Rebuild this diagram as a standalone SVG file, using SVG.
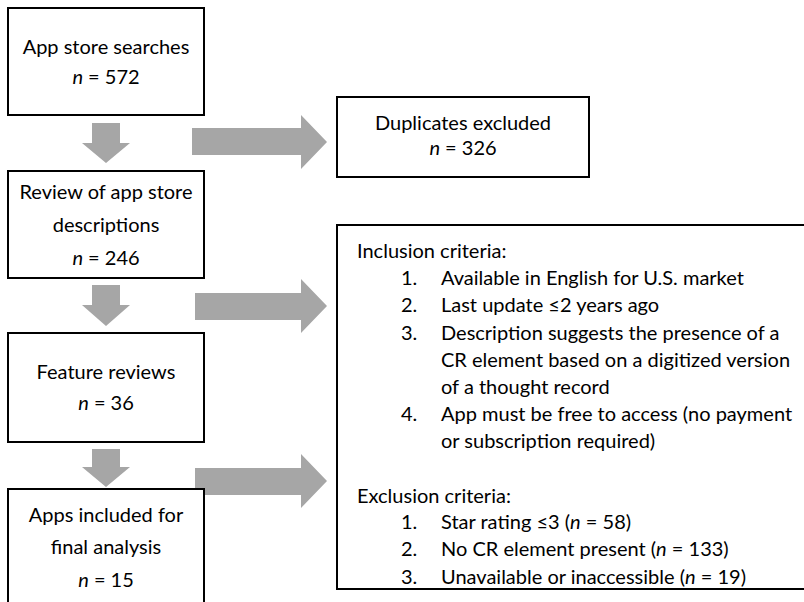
<svg xmlns="http://www.w3.org/2000/svg" width="804" height="602" viewBox="0 0 804 602">
<style>
.box{fill:#fff;stroke:#000;stroke-width:2}
.arr{fill:#a6a6a6;stroke:none}
text{font-family:Lato,"Open Sans","DejaVu Sans",sans-serif;font-size:20px;fill:#000}
.c{text-anchor:middle}
.i{font-style:italic}
</style>
<rect width="804" height="602" fill="#fff"/>
<g id="connectors">
<polygon class="arr" points="92,123 120,123 120,143 130,143 106,163 82,143 92,143"/>
<polygon class="arr" points="92,285 120,285 120,305 130,305 106,326 82,305 92,305"/>
<polygon class="arr" points="92,449 120,449 120,467 130,467 106,487 82,467 92,467"/>
<polygon class="arr" points="192,128 301,128 301,115 327,142 301,169 301,155 192,155"/>
<polygon class="arr" points="195,293 301,293 301,279 327,306 301,333 301,320 195,320"/>
<polygon class="arr" points="195,468 301,468 301,454 327,481 301,508 301,495 195,495"/>
</g>
<g id="search">
<rect class="box" x="8" y="8" width="196" height="107"/>
<text class="c" x="106" y="54">App store searches</text>
<text class="c" x="106" y="84"><tspan class="i">n</tspan> = 572</text>
</g>
<g id="duplicates">
<rect class="box" x="337" y="97" width="252" height="80"/>
<text class="c" x="463" y="130">Duplicates excluded</text>
<text class="c" x="463" y="155"><tspan class="i">n</tspan> = 326</text>
</g>
<g id="review">
<rect class="box" x="8" y="171" width="196" height="107"/>
<text class="c" x="106" y="199">Review of app store</text>
<text class="c" x="106" y="232">descriptions</text>
<text class="c" x="106" y="265"><tspan class="i">n</tspan> = 246</text>
</g>
<g id="features">
<rect class="box" x="8" y="333" width="196" height="109"/>
<text class="c" x="106" y="379">Feature reviews</text>
<text class="c" x="106" y="410"><tspan class="i">n</tspan> = 36</text>
</g>
<g id="included">
<rect class="box" x="8" y="489" width="196" height="130"/>
<text class="c" x="106" y="522">Apps included for</text>
<text class="c" x="106" y="554">final analysis</text>
<text class="c" x="106" y="587"><tspan class="i">n</tspan> = 15</text>
</g>
<g id="criteria">
<rect class="box" x="337" y="225" width="480" height="364"/>
<text x="357" y="258">Inclusion criteria:</text>
<text x="401" y="285">1.</text><text x="441" y="285">Available in English for U.S. market</text>
<text x="401" y="312">2.</text><text x="441" y="312">Last update ≤2 years ago</text>
<text x="401" y="340">3.</text><text x="441" y="340">Description suggests the presence of a</text>
<text x="441" y="367">CR element based on a digitized version</text>
<text x="441" y="394">of a thought record</text>
<text x="401" y="421">4.</text><text x="441" y="421">App must be free to access (no payment</text>
<text x="441" y="448">or subscription required)</text>
<text x="357" y="503">Exclusion criteria:</text>
<text x="401" y="529">1.</text><text x="441" y="529">Star rating ≤3 (<tspan class="i">n</tspan> = 58)</text>
<text x="401" y="556">2.</text><text x="441" y="556">No CR element present (<tspan class="i">n</tspan> = 133)</text>
<text x="401" y="584">3.</text><text x="441" y="584">Unavailable or inaccessible (<tspan class="i">n</tspan> = 19)</text>
</g>
</svg>
